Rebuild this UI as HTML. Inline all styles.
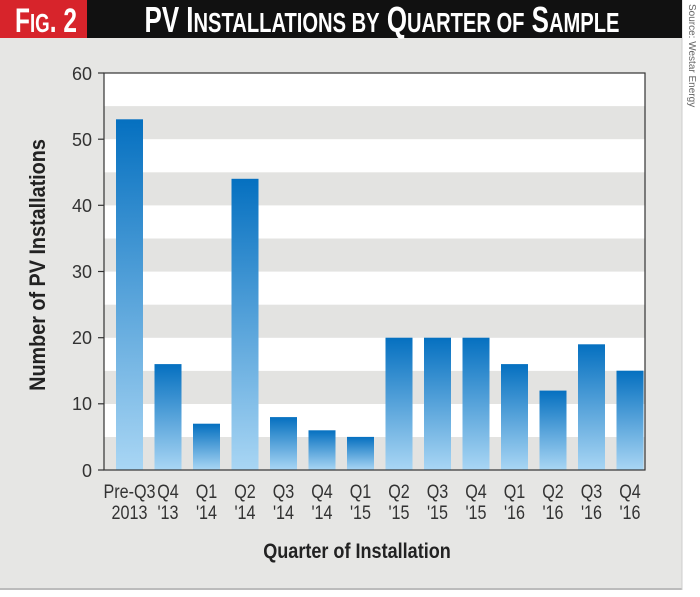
<!DOCTYPE html>
<html><head><style>
body{margin:0;background:#fff;width:700px;height:592px;overflow:hidden;font-family:"Liberation Sans",sans-serif}
</style></head><body>
<svg width="700" height="592" xmlns="http://www.w3.org/2000/svg" font-family="Liberation Sans, sans-serif">
<defs>
<linearGradient id="g" x1="0" y1="0" x2="0" y2="1">
<stop offset="0" stop-color="#0570c0"/><stop offset="1" stop-color="#a9d6f4"/>
</linearGradient>
</defs>
<rect x="0" y="0" width="682" height="590" fill="#e6e6e4"/>
<line x1="0" y1="589" x2="682" y2="589" stroke="#bbb" stroke-width="2"/>
<line x1="682" y1="0" x2="682" y2="590" stroke="#ccc" stroke-width="1"/>
<rect x="0" y="0" width="682" height="38" fill="#111"/>
<rect x="0" y="0" width="87" height="38" fill="#d7242b"/>
<text x="46" y="32" fill="#fff" font-weight="bold" font-size="34" text-anchor="middle" transform="translate(46,0) scale(0.72,1) translate(-46,0)">F<tspan font-size="26">IG</tspan>. 2</text>
<text x="382" y="32" fill="#fff" font-weight="bold" font-size="36" text-anchor="middle" transform="translate(382,0) scale(0.72,1) translate(-382,0)">PV I<tspan font-size="28">NSTALLATIONS BY</tspan> Q<tspan font-size="28">UARTER OF</tspan> S<tspan font-size="28">AMPLE</tspan></text>
<text transform="translate(689,4) rotate(90)" font-size="10" fill="#666">Source: Westar Energy</text>
<g>
<rect x="104" y="73" width="541" height="397" fill="#fff"/>
<rect x="104" y="106.1" width="541" height="33.1" fill="#e3e3e1"/>
<rect x="104" y="172.3" width="541" height="33.1" fill="#e3e3e1"/>
<rect x="104" y="238.5" width="541" height="33.1" fill="#e3e3e1"/>
<rect x="104" y="304.7" width="541" height="33.1" fill="#e3e3e1"/>
<rect x="104" y="370.9" width="541" height="33.1" fill="#e3e3e1"/>
<rect x="104" y="437" width="541" height="33" fill="#e3e3e1"/>
</g>
<g fill="url(#g)">
<rect x="116" y="119.3" width="27" height="350.7"/>
<rect x="154.5" y="364.1" width="27" height="105.9"/>
<rect x="193" y="423.7" width="27" height="46.3"/>
<rect x="231.5" y="178.8" width="27" height="291.2"/>
<rect x="270" y="417.1" width="27" height="52.9"/>
<rect x="308.5" y="430.3" width="27" height="39.7"/>
<rect x="347" y="436.9" width="27" height="33.1"/>
<rect x="385.5" y="337.7" width="27" height="132.3"/>
<rect x="424" y="337.7" width="27" height="132.3"/>
<rect x="462.5" y="337.7" width="27" height="132.3"/>
<rect x="501" y="364.1" width="27" height="105.9"/>
<rect x="539.5" y="390.6" width="27" height="79.4"/>
<rect x="578" y="344.3" width="27" height="125.7"/>
<rect x="616.5" y="370.7" width="27" height="99.3"/>
</g>
<rect x="104" y="73" width="541" height="397" fill="none" stroke="#333" stroke-width="1.2"/>
<g stroke="#333" stroke-width="1.2">
<line x1="98" y1="73" x2="104" y2="73"/><line x1="98" y1="139.2" x2="104" y2="139.2"/><line x1="98" y1="205.3" x2="104" y2="205.3"/><line x1="98" y1="271.5" x2="104" y2="271.5"/><line x1="98" y1="337.7" x2="104" y2="337.7"/><line x1="98" y1="403.8" x2="104" y2="403.8"/><line x1="98" y1="470" x2="104" y2="470"/>
</g>
<g font-size="18" fill="#333" text-anchor="end">
<text x="92" y="80">60</text><text x="92" y="146">50</text><text x="92" y="212">40</text><text x="92" y="278">30</text><text x="92" y="344">20</text><text x="92" y="410">10</text><text x="92" y="477">0</text>
</g>
<g font-size="19" fill="#333" text-anchor="middle" transform="scale(0.85,1)">
<text x="152.35" y="498">Pre-Q3</text><text x="152.35" y="519">2013</text>
<text x="197.65" y="498">Q4</text><text x="197.65" y="519">'13</text>
<text x="242.94" y="498">Q1</text><text x="242.94" y="519">'14</text>
<text x="288.24" y="498">Q2</text><text x="288.24" y="519">'14</text>
<text x="333.53" y="498">Q3</text><text x="333.53" y="519">'14</text>
<text x="378.82" y="498">Q4</text><text x="378.82" y="519">'14</text>
<text x="424.12" y="498">Q1</text><text x="424.12" y="519">'15</text>
<text x="469.41" y="498">Q2</text><text x="469.41" y="519">'15</text>
<text x="514.71" y="498">Q3</text><text x="514.71" y="519">'15</text>
<text x="560" y="498">Q4</text><text x="560" y="519">'15</text>
<text x="605.29" y="498">Q1</text><text x="605.29" y="519">'16</text>
<text x="650.59" y="498">Q2</text><text x="650.59" y="519">'16</text>
<text x="695.88" y="498">Q3</text><text x="695.88" y="519">'16</text>
<text x="741.18" y="498">Q4</text><text x="741.18" y="519">'16</text>
</g>
<text x="357" y="558" font-size="21" font-weight="bold" fill="#222" text-anchor="middle" transform="translate(357,0) scale(0.86,1) translate(-357,0)">Quarter of Installation</text>
<text transform="translate(45,265) rotate(-90) scale(0.9,1)" font-size="22" font-weight="bold" fill="#222" text-anchor="middle">Number of  PV Installations</text>
</svg>
</body></html>
